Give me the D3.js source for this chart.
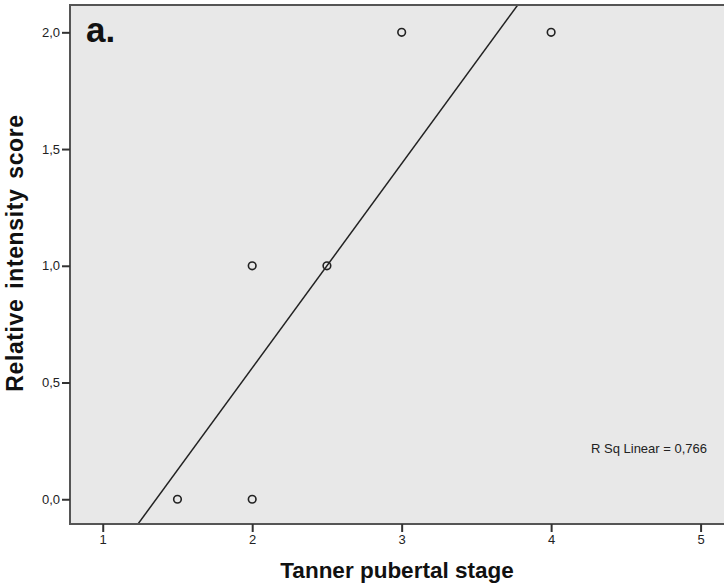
<!DOCTYPE html>
<html>
<head>
<meta charset="utf-8">
<script src="https://cdn.jsdelivr.net/npm/d3@7"></script>
<style>
  html, body { margin: 0; padding: 0; background: #fff; }
  svg { display: block; font-family: "Liberation Sans", Arial, sans-serif; }
</style>
</head>
<body>
<svg id="chart" width="724" height="587"></svg>
<script>
// Tanner stage vs relative intensity score
const tannerStage = [1.5, 2, 2, 2.5, 3, 4];
const intensityScore = [0, 0, 1, 1, 2, 2];
const xTicks = [1, 2, 3, 4, 5];
const yTicks = [0, 0.5, 1, 1.5, 2];
const panelLabel = "a.";
const xTitle = "Tanner pubertal stage";
const yTitle = "Relative intensity score";

const svg = d3.select("#chart");
const plotLeft = 70, plotTop = 5, plotRight = 726, plotBottom = 524;

const x = d3.scaleLinear().domain([0.781, 5.170]).range([plotLeft, plotRight]);
const y = d3.scaleLinear().domain([-0.106, 2.117]).range([plotBottom, plotTop]);

const comma = d3.formatLocale({ decimal: ",", thousands: ".", grouping: [3], currency: ["", ""] });
const fmt1 = comma.format(".1f");

// plot background
svg.append("rect")
  .attr("x", plotLeft).attr("y", plotTop)
  .attr("width", plotRight - plotLeft).attr("height", plotBottom - plotTop)
  .attr("fill", "#e8e8e8");

// least-squares fit
const n = tannerStage.length;
const mx = d3.mean(tannerStage), my = d3.mean(intensityScore);
let sxy = 0, sxx = 0, syy = 0;
for (let i = 0; i < n; i++) {
  sxy += (tannerStage[i] - mx) * (intensityScore[i] - my);
  sxx += (tannerStage[i] - mx) ** 2;
  syy += (intensityScore[i] - my) ** 2;
}
const slope = sxy / sxx, intercept = my - slope * mx;
const r2 = (sxy * sxy) / (sxx * syy);

svg.append("clipPath").attr("id", "plotClip")
  .append("rect").attr("x", plotLeft).attr("y", plotTop)
  .attr("width", plotRight - plotLeft).attr("height", plotBottom - plotTop);

const [d0, d1] = x.domain();
svg.append("line")
  .attr("clip-path", "url(#plotClip)")
  .attr("x1", x(d0)).attr("y1", y(intercept + slope * d0))
  .attr("x2", x(d1)).attr("y2", y(intercept + slope * d1))
  .attr("stroke", "#222").attr("stroke-width", 1.5);

// data points
svg.append("g").selectAll("circle")
  .data(tannerStage.map((t, i) => [t, intensityScore[i]]))
  .join("circle")
  .attr("cx", d => x(d[0])).attr("cy", d => y(d[1]))
  .attr("r", 3.8)
  .attr("fill", "none")
  .attr("stroke", "#222").attr("stroke-width", 1.6);

// frame (left, top, bottom)
svg.append("path")
  .attr("d", `M${plotRight},${plotTop}H${plotLeft}V${plotBottom}H${plotRight}`)
  .attr("fill", "none").attr("stroke", "#555").attr("stroke-width", 2);

// axes
const xAxis = d3.axisBottom(x).tickValues(xTicks).tickFormat(d3.format("d"))
  .tickSize(8).tickPadding(3);
const gx = svg.append("g").attr("transform", `translate(0,${plotBottom})`).call(xAxis);
gx.select(".domain").remove();
gx.selectAll(".tick line").attr("stroke", "#333").attr("stroke-width", 2);
gx.selectAll(".tick text").attr("font-size", 13).attr("fill", "#222")
  .attr("font-family", "Liberation Sans, Arial, sans-serif");

const yAxis = d3.axisLeft(y).tickValues(yTicks).tickFormat(fmt1)
  .tickSize(8).tickPadding(2);
const gy = svg.append("g").attr("transform", `translate(${plotLeft},0)`).call(yAxis);
gy.select(".domain").remove();
gy.selectAll(".tick line").attr("stroke", "#333").attr("stroke-width", 2);
gy.selectAll(".tick text").attr("font-size", 13).attr("fill", "#222")
  .attr("font-family", "Liberation Sans, Arial, sans-serif");

// titles
svg.append("text")
  .attr("x", 397).attr("y", 578)
  .attr("text-anchor", "middle")
  .attr("font-size", 22.5).attr("font-weight", "bold").attr("fill", "#111")
  .text(xTitle);

svg.append("text")
  .attr("transform", `translate(23,253) rotate(-90)`)
  .attr("text-anchor", "middle")
  .attr("font-size", 23).attr("font-weight", "bold").attr("fill", "#111")
  .attr("letter-spacing", 0.6).attr("word-spacing", 3)
  .text(yTitle);

svg.append("text")
  .attr("x", 86).attr("y", 42)
  .attr("font-size", 35).attr("font-weight", "bold").attr("fill", "#111")
  .text(panelLabel);

svg.append("text")
  .attr("x", 707).attr("y", 453)
  .attr("text-anchor", "end")
  .attr("font-size", 13).attr("fill", "#222")
  .text("R Sq Linear = " + comma.format(".3f")(r2));
</script>
</body>
</html>
